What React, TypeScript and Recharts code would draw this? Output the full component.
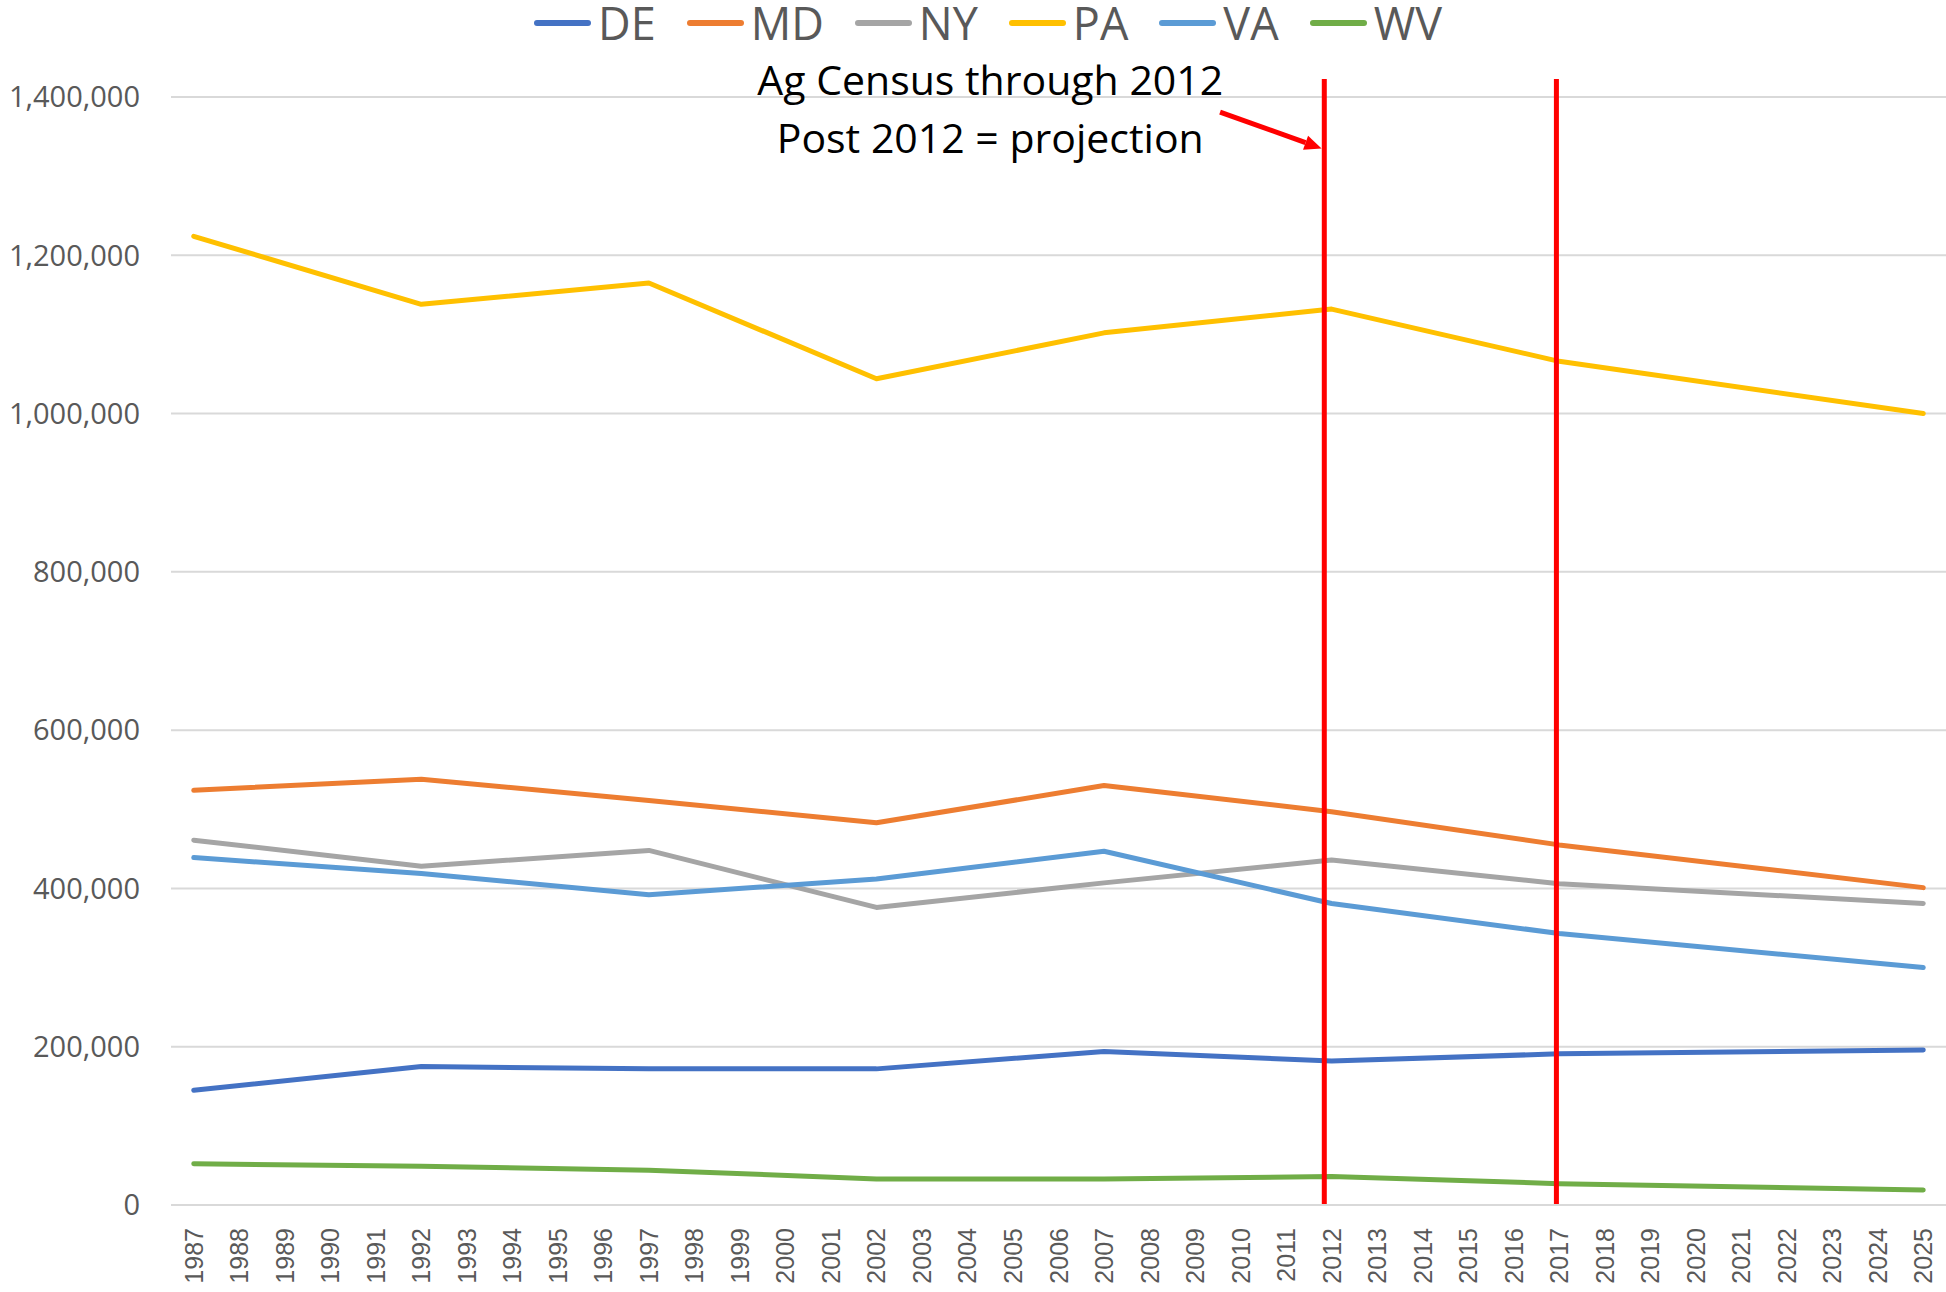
import React from "react"
import { LineChart, Line, XAxis, YAxis, CartesianGrid, ReferenceLine, ReferenceDot } from "recharts"

// census years (plus the 2025 projection end point)
const censusYears = [1987, 1992, 1997, 2002, 2007, 2012, 2017, 2025]

const deValues = [145000, 175000, 172000, 172000, 194000, 182000, 191000, 196000]
const mdValues = [524000, 538000, 511000, 483000, 530000, 497000, 455000, 401000]
const nyValues = [461000, 428000, 448000, 376000, 407000, 436000, 406000, 381000]
const paValues = [1224000, 1138000, 1165000, 1044000, 1102000, 1132000, 1066000, 1000000]
const vaValues = [439000, 419000, 392000, 412000, 447000, 381000, 343000, 300000]
const wvValues = [52000, 49000, 44000, 33000, 33000, 36000, 27000, 19000]

const yearTicks = [
  1987, 1988, 1989, 1990, 1991, 1992, 1993, 1994, 1995, 1996, 1997, 1998, 1999,
  2000, 2001, 2002, 2003, 2004, 2005, 2006, 2007, 2008, 2009, 2010, 2011, 2012,
  2013, 2014, 2015, 2016, 2017, 2018, 2019, 2020, 2021, 2022, 2023, 2024, 2025,
]
const valueTicks = [0, 200000, 400000, 600000, 800000, 1000000, 1200000, 1400000]

const series = [
  { key: "DE", color: "#4472C4", values: deValues },
  { key: "MD", color: "#ED7D31", values: mdValues },
  { key: "NY", color: "#A5A5A5", values: nyValues },
  { key: "PA", color: "#FFC000", values: paValues },
  { key: "VA", color: "#5B9BD5", values: vaValues },
  { key: "WV", color: "#70AD47", values: wvValues },
]

const chartData = censusYears.map((year, i) => {
  const row: Record<string, number> = { year }
  series.forEach((s) => {
    row[s.key] = s.values[i]
  })
  return row
})

const textFont = "'Open Sans', 'Noto Sans', sans-serif"
const RED = "#FF0000"

function YearTick({ x, y, payload }: any) {
  return (
    <text
      x={x}
      y={y}
      transform={`rotate(-90 ${x} ${y})`}
      textAnchor="end"
      dominantBaseline="central"
      fontFamily="'Liberation Sans', Arial, sans-serif"
      fontSize={25}
      fill="#595959"
    >
      {payload.value}
    </text>
  )
}

function ArrowShape(props: any) {
  const { x1, y1, x2, y2 } = props
  const angle = Math.atan2(y2 - y1, x2 - x1)
  const len = 17
  const half = 7.5
  const bx = x2 - len * Math.cos(angle)
  const by = y2 - len * Math.sin(angle)
  const px = -Math.sin(angle) * half
  const py = Math.cos(angle) * half
  return (
    <g>
      <line x1={x1} y1={y1} x2={bx} y2={by} stroke={RED} strokeWidth={5} />
      <polygon points={`${x2},${y2} ${bx + px},${by + py} ${bx - px},${by - py}`} fill={RED} />
    </g>
  )
}

function NoteText(text: string) {
  return (props: any) => (
    <text
      x={props.cx}
      y={props.cy}
      textAnchor="middle"
      dominantBaseline="central"
      fontFamily={textFont}
      fontSize={41}
      fill="#000000"
    >
      {text}
    </text>
  )
}

function LegendRow() {
  return (
    <div
      style={{
        position: "absolute",
        top: 1,
        left: 534,
        height: 44,
        display: "flex",
        alignItems: "center",
        gap: 31,
        fontFamily: textFont,
        fontSize: 45,
        color: "#595959",
        whiteSpace: "nowrap",
      }}
    >
      {series.map((s) => (
        <div key={s.key} style={{ display: "flex", alignItems: "center", gap: 7, height: 44 }}>
          <div style={{ width: 57, height: 6, borderRadius: 3, background: s.color }} />
          <span style={{ lineHeight: "44px", display: "block", height: 44 }}>{s.key}</span>
        </div>
      ))}
    </div>
  )
}

export default function App() {
  return (
    <div style={{ position: "absolute", left: 0, top: 0, width: 1946, height: 1292, background: "#fff" }}>
      <LineChart width={1946} height={1292} data={chartData} margin={{ top: 97, right: 0, bottom: 0, left: 0 }}>
        <CartesianGrid vertical={false} stroke="#D9D9D9" strokeWidth={2} />
        <XAxis
          dataKey="year"
          type="number"
          domain={[1986.5, 2025.5]}
          ticks={yearTicks}
          interval={0}
          height={87}
          tick={<YearTick />}
          tickLine={false}
          tickSize={0}
          tickMargin={23}
          axisLine={{ stroke: "#D9D9D9", strokeWidth: 2 }}
        />
        <YAxis
          domain={[0, 1400000]}
          ticks={valueTicks}
          width={171}
          tickFormatter={(v) => Number(v).toLocaleString("en-US")}
          tick={{ fontSize: 29, fill: "#595959", fontFamily: textFont }}
          tickLine={false}
          tickSize={0}
          tickMargin={31}
          axisLine={false}
        />
        {series.map((s) => (
          <Line
            key={s.key}
            dataKey={s.key}
            stroke={s.color}
            strokeWidth={5}
            strokeLinecap="round"
            strokeLinejoin="round"
            dot={false}
            activeDot={false}
            isAnimationActive={false}
          />
        ))}
        <ReferenceLine
          segment={[{ x: 2011.84, y: 0 }, { x: 2011.84, y: 1422800 }]}
          stroke={RED}
          strokeWidth={5}
          ifOverflow="visible"
        />
        <ReferenceLine
          segment={[{ x: 2016.94, y: 0 }, { x: 2016.94, y: 1422800 }]}
          stroke={RED}
          strokeWidth={5}
          ifOverflow="visible"
        />
        <ReferenceLine
          segment={[{ x: 2009.55, y: 1381000 }, { x: 2011.78, y: 1335000 }]}
          shape={<ArrowShape />}
          ifOverflow="visible"
        />
        <ReferenceDot x={2004.5} y={1422800} r={0} ifOverflow="visible" shape={NoteText("Ag Census through 2012")} />
        <ReferenceDot x={2004.5} y={1349500} r={0} ifOverflow="visible" shape={NoteText("Post 2012 = projection")} />
      </LineChart>
      <LegendRow />
    </div>
  )
}
